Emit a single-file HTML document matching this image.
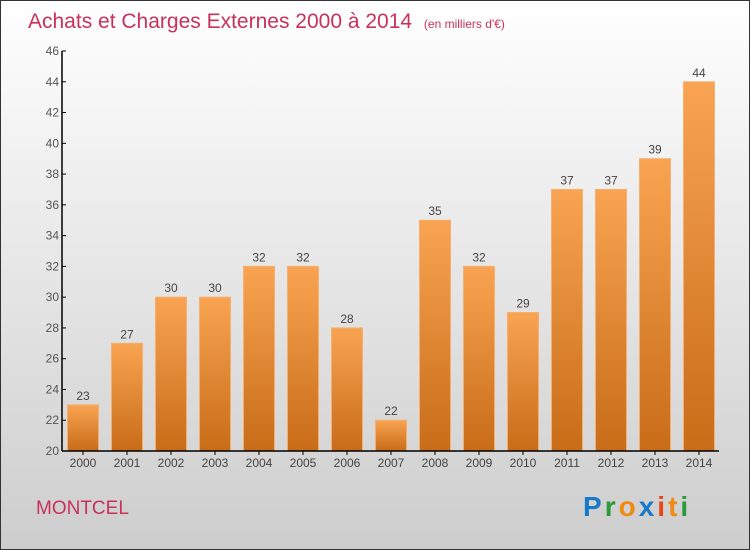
<!DOCTYPE html>
<html><head><meta charset="utf-8"><style>
body{margin:0}
#c{width:750px;height:550px;position:relative;box-sizing:border-box;border:1px solid #333;background:linear-gradient(#ffffff,#cdcdcd);font-family:"Liberation Sans",sans-serif;overflow:hidden}
</style></head><body>
<div id="c">
<svg width="750" height="550" style="position:absolute;left:-1px;top:-1px" id="svg">
<defs><linearGradient id="bg" x1="0" y1="0" x2="0" y2="1"><stop offset="0" stop-color="#f9a452"/><stop offset="1" stop-color="#c86c18"/></linearGradient></defs>
<text x="28" y="28" font-size="21" fill="#c8325a">Achats et Charges Externes 2000 à 2014 <tspan font-size="12" dx="6">(en milliers d'€)</tspan></text>
<g id="plot"></g>
<text x="36" y="514" font-size="19" fill="#c8325a">MONTCEL</text>
<text x="583" y="516" font-size="28" font-weight="bold" letter-spacing="3"><tspan fill="#1a78c8">P</tspan><tspan fill="#2a9a3a">r</tspan><tspan fill="#f08a10">o</tspan><tspan fill="#1a78c8">x</tspan><tspan fill="#e84818">i</tspan><tspan fill="#f08a10">t</tspan><tspan fill="#2a9a3a">i</tspan></text>
</svg>
</div>
<script>
const years=["2000","2001","2002","2003","2004","2005","2006","2007","2008","2009","2010","2011","2012","2013","2014"];
const values=[23,27,30,30,32,32,28,22,35,32,29,37,37,39,44];
const yTicks=[20,22,24,26,28,30,32,34,36,38,40,42,44,46];
const NS="http://www.w3.org/2000/svg";
const g=document.getElementById('plot');
const x0=62,yMin=20,yMax=46,yTop=51,yBot=451,step=44;
const y=v=>yBot-(v-yMin)/(yMax-yMin)*(yBot-yTop);
const xc=i=>x0+21+i*step;
function mk(t,a){const e=document.createElementNS(NS,t);for(const k in a)e.setAttribute(k,a[k]);g.appendChild(e);return e;}
yTicks.forEach(t=>{
 const l=mk('line',{x1:x0,x2:x0+4,y1:y(t),y2:y(t),stroke:'#000'});
 
 
 const tx=mk('text',{x:x0-3,y:y(t)+4,'font-size':12,fill:'#555','text-anchor':'end'});tx.textContent=t;
 
 
});
years.forEach((yr,i)=>{
 const v=values[i];
 const r=mk('rect',{x:xc(i)-15.5,y:y(v),width:31,height:yBot-y(v),fill:'url(#bg)',stroke:'#f4b070','stroke-width':1});
 
 
 const vl=mk('text',{x:xc(i),y:y(v)-5,'font-size':12,fill:'#444','text-anchor':'middle'});vl.textContent=v;
 
 
 const tk=mk('line',{x1:xc(i),x2:xc(i),y1:yBot,y2:yBot+4,stroke:'#000'});
 
 
 const xl=mk('text',{x:xc(i),y:yBot+16,'font-size':12,fill:'#444','text-anchor':'middle'});xl.textContent=yr;
 
 
});
const ya=mk('line',{x1:x0,x2:x0,y1:yTop,y2:yBot,stroke:'#000','stroke-width':1.5});


const xa=mk('line',{x1:x0,x2:719,y1:yBot,y2:yBot,stroke:'#000','stroke-width':1.5});


</script>
</body></html>
